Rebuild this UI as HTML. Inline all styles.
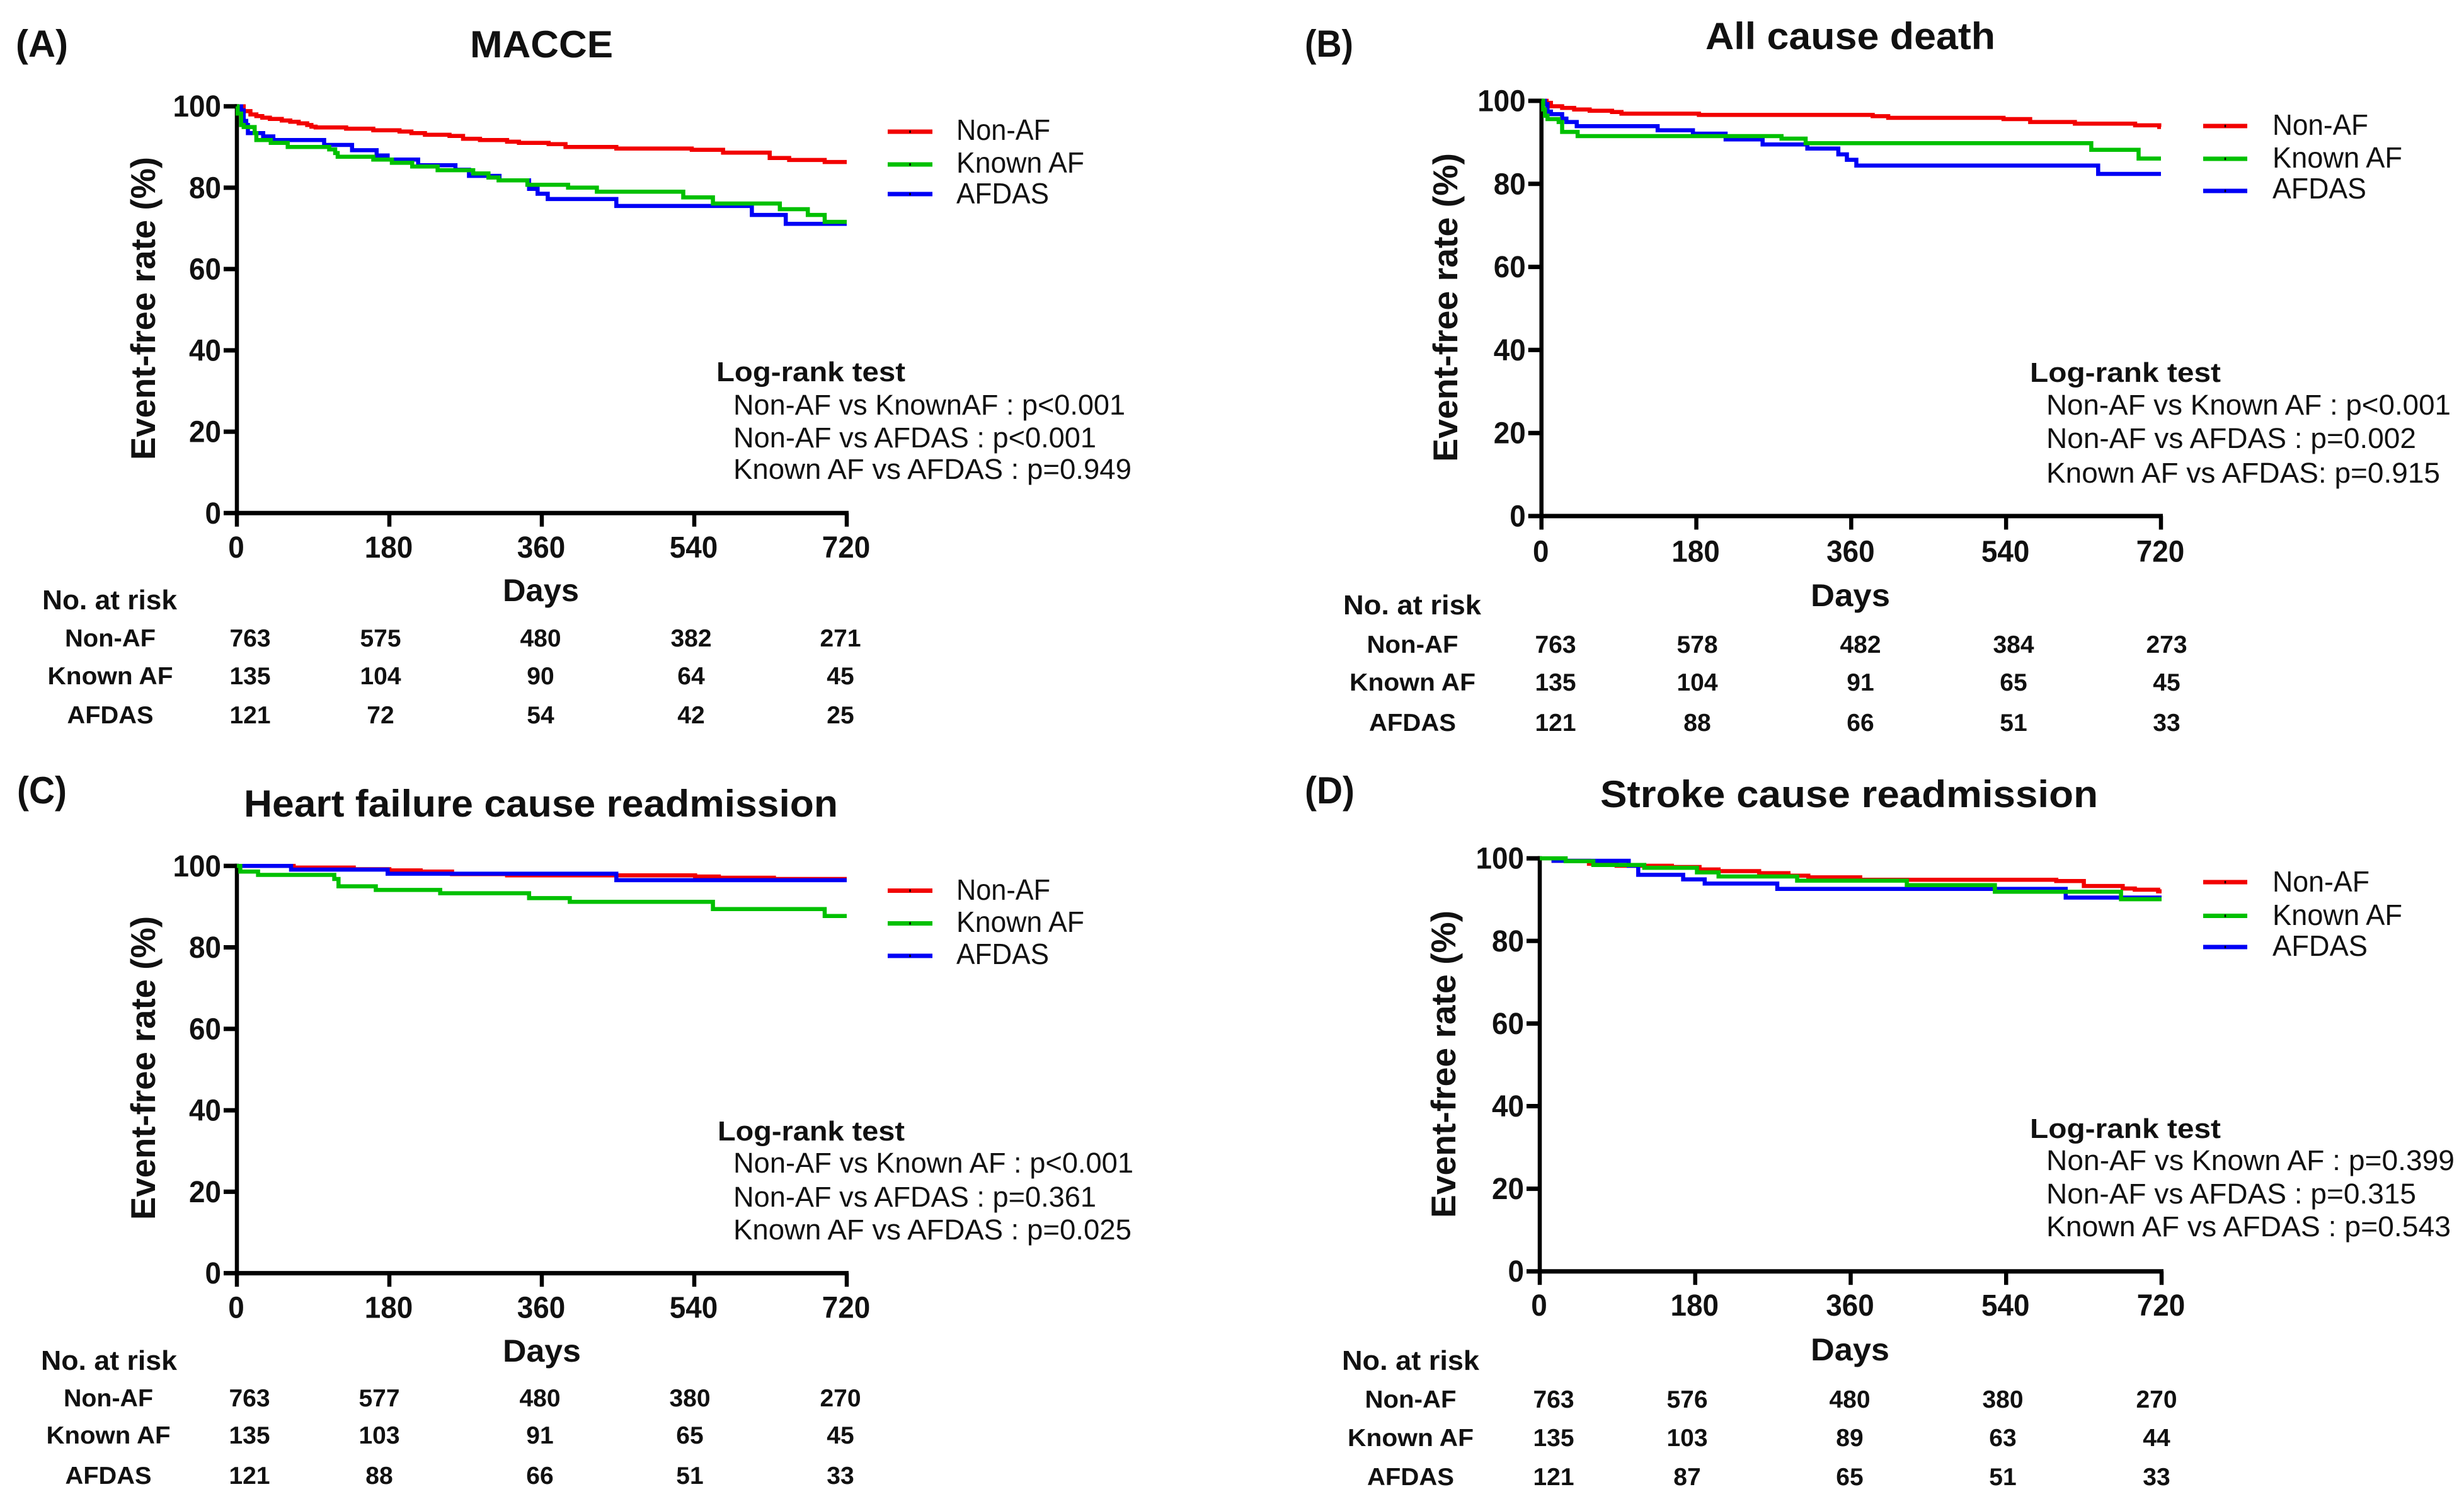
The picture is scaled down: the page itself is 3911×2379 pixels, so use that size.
<!DOCTYPE html>
<html lang="en">
<head>
<meta charset="utf-8">
<title>Kaplan-Meier event-free survival panels</title>
<style>
html,body{margin:0;padding:0;background:#fff;}
svg{display:block;}
text{font-family:"Liberation Sans",Arial,sans-serif;fill:#111;}
.b{font-weight:bold;}
.panel{font-size:60px;font-weight:bold;}
.title{font-size:60px;font-weight:bold;}
.ytitle{font-size:55px;font-weight:bold;}
.days{font-size:50px;font-weight:bold;}
.leg{font-size:46px;}
.lr{font-size:45px;}
.lrh{font-size:44px;font-weight:bold;}
.risk{font-size:39px;font-weight:bold;}
.riskh{font-size:44px;font-weight:bold;}
.mid{text-anchor:middle;}
.tick{font-size:48px;font-weight:bold;}
</style>
</head>
<body>
<svg id="figure" xmlns="http://www.w3.org/2000/svg" width="3911" height="2379" viewBox="0 0 3911 2379">
<rect width="3911" height="2379" fill="#fff"/>

<!-- Panel A -->
<g id="panel-a">
<text class="panel" x="25" y="90" textLength="83" lengthAdjust="spacingAndGlyphs">(A)</text>
<text class="title" x="746" y="91" textLength="227" lengthAdjust="spacingAndGlyphs">MACCE</text>
<text class="ytitle" transform="translate(246,730) rotate(-90)" textLength="481" lengthAdjust="spacingAndGlyphs">Event-free rate (%)</text>
<text class="days" x="798" y="954" textLength="121" lengthAdjust="spacingAndGlyphs">Days</text>
<text class="leg" x="1518" y="222" textLength="149" lengthAdjust="spacingAndGlyphs">Non-AF</text>
<text class="leg" x="1518" y="274" textLength="203" lengthAdjust="spacingAndGlyphs">Known AF</text>
<text class="leg" x="1518" y="323" textLength="147" lengthAdjust="spacingAndGlyphs">AFDAS</text>
<text class="lrh" x="1137" y="605" textLength="300" lengthAdjust="spacingAndGlyphs">Log-rank test</text>
<text class="lr" x="1164" y="658" textLength="622" lengthAdjust="spacingAndGlyphs">Non-AF vs KnownAF : p&lt;0.001</text>
<text class="lr" x="1164" y="710" textLength="576" lengthAdjust="spacingAndGlyphs">Non-AF vs AFDAS : p&lt;0.001</text>
<text class="lr" x="1164" y="760" textLength="632" lengthAdjust="spacingAndGlyphs">Known AF vs AFDAS : p=0.949</text>
<text class="riskh" x="67" y="967" textLength="214" lengthAdjust="spacingAndGlyphs">No. at risk</text>
<text class="risk mid" x="175" y="1026" textLength="144" lengthAdjust="spacingAndGlyphs">Non-AF</text>
<text class="risk mid" x="175" y="1086" textLength="199" lengthAdjust="spacingAndGlyphs">Known AF</text>
<text class="risk mid" x="175" y="1148" textLength="137" lengthAdjust="spacingAndGlyphs">AFDAS</text>
<g class="risk mid"><text x="397" y="1026">763</text><text x="604" y="1026">575</text><text x="858" y="1026">480</text><text x="1097" y="1026">382</text><text x="1334" y="1026">271</text></g>
<g class="risk mid"><text x="397" y="1086">135</text><text x="604" y="1086">104</text><text x="858" y="1086">90</text><text x="1097" y="1086">64</text><text x="1334" y="1086">45</text></g>
<g class="risk mid"><text x="397" y="1148">121</text><text x="604" y="1148">72</text><text x="858" y="1148">54</text><text x="1097" y="1148">42</text><text x="1334" y="1148">25</text></g>
</g>

<!-- Panel B -->
<g id="panel-b">
<text class="panel" x="2071" y="90" textLength="77" lengthAdjust="spacingAndGlyphs">(B)</text>
<text class="title" x="2707" y="78" textLength="460" lengthAdjust="spacingAndGlyphs">All cause death</text>
<text class="ytitle" transform="translate(2313,733) rotate(-90)" textLength="490" lengthAdjust="spacingAndGlyphs">Event-free rate (%)</text>
<text class="days" x="2874" y="962" textLength="126" lengthAdjust="spacingAndGlyphs">Days</text>
<text class="leg" x="3607" y="214" textLength="152" lengthAdjust="spacingAndGlyphs">Non-AF</text>
<text class="leg" x="3607" y="266" textLength="206" lengthAdjust="spacingAndGlyphs">Known AF</text>
<text class="leg" x="3607" y="315" textLength="149" lengthAdjust="spacingAndGlyphs">AFDAS</text>
<text class="lrh" x="3222" y="606" textLength="303" lengthAdjust="spacingAndGlyphs">Log-rank test</text>
<text class="lr" x="3248" y="658" textLength="642" lengthAdjust="spacingAndGlyphs">Non-AF vs Known AF : p&lt;0.001</text>
<text class="lr" x="3248" y="711" textLength="587" lengthAdjust="spacingAndGlyphs">Non-AF vs AFDAS : p=0.002</text>
<text class="lr" x="3248" y="766" textLength="625" lengthAdjust="spacingAndGlyphs">Known AF vs AFDAS: p=0.915</text>
<text class="riskh" x="2132" y="975" textLength="219" lengthAdjust="spacingAndGlyphs">No. at risk</text>
<text class="risk mid" x="2242" y="1036" textLength="145" lengthAdjust="spacingAndGlyphs">Non-AF</text>
<text class="risk mid" x="2242" y="1096" textLength="200" lengthAdjust="spacingAndGlyphs">Known AF</text>
<text class="risk mid" x="2242" y="1160" textLength="138" lengthAdjust="spacingAndGlyphs">AFDAS</text>
<g class="risk mid"><text x="2469" y="1036">763</text><text x="2694" y="1036">578</text><text x="2953" y="1036">482</text><text x="3196" y="1036">384</text><text x="3439" y="1036">273</text></g>
<g class="risk mid"><text x="2469" y="1096">135</text><text x="2694" y="1096">104</text><text x="2953" y="1096">91</text><text x="3196" y="1096">65</text><text x="3439" y="1096">45</text></g>
<g class="risk mid"><text x="2469" y="1160">121</text><text x="2694" y="1160">88</text><text x="2953" y="1160">66</text><text x="3196" y="1160">51</text><text x="3439" y="1160">33</text></g>
</g>

<!-- Panel C -->
<g id="panel-c">
<text class="panel" x="27" y="1275" textLength="79" lengthAdjust="spacingAndGlyphs">(C)</text>
<text class="title" x="387" y="1296" textLength="943" lengthAdjust="spacingAndGlyphs">Heart failure cause readmission</text>
<text class="ytitle" transform="translate(246,1936) rotate(-90)" textLength="482" lengthAdjust="spacingAndGlyphs">Event-free rate (%)</text>
<text class="days" x="798" y="2161" textLength="124" lengthAdjust="spacingAndGlyphs">Days</text>
<text class="leg" x="1518" y="1428" textLength="149" lengthAdjust="spacingAndGlyphs">Non-AF</text>
<text class="leg" x="1518" y="1479" textLength="203" lengthAdjust="spacingAndGlyphs">Known AF</text>
<text class="leg" x="1518" y="1530" textLength="147" lengthAdjust="spacingAndGlyphs">AFDAS</text>
<text class="lrh" x="1139" y="1810" textLength="297" lengthAdjust="spacingAndGlyphs">Log-rank test</text>
<text class="lr" x="1164" y="1861" textLength="635" lengthAdjust="spacingAndGlyphs">Non-AF vs Known AF : p&lt;0.001</text>
<text class="lr" x="1164" y="1915" textLength="576" lengthAdjust="spacingAndGlyphs">Non-AF vs AFDAS : p=0.361</text>
<text class="lr" x="1164" y="1967" textLength="632" lengthAdjust="spacingAndGlyphs">Known AF vs AFDAS : p=0.025</text>
<text class="riskh" x="65" y="2174" textLength="216" lengthAdjust="spacingAndGlyphs">No. at risk</text>
<text class="risk mid" x="172" y="2232" textLength="142" lengthAdjust="spacingAndGlyphs">Non-AF</text>
<text class="risk mid" x="172" y="2291" textLength="197" lengthAdjust="spacingAndGlyphs">Known AF</text>
<text class="risk mid" x="172" y="2355" textLength="137" lengthAdjust="spacingAndGlyphs">AFDAS</text>
<g class="risk mid"><text x="396" y="2232">763</text><text x="602" y="2232">577</text><text x="857" y="2232">480</text><text x="1095" y="2232">380</text><text x="1334" y="2232">270</text></g>
<g class="risk mid"><text x="396" y="2291">135</text><text x="602" y="2291">103</text><text x="857" y="2291">91</text><text x="1095" y="2291">65</text><text x="1334" y="2291">45</text></g>
<g class="risk mid"><text x="396" y="2355">121</text><text x="602" y="2355">88</text><text x="857" y="2355">66</text><text x="1095" y="2355">51</text><text x="1334" y="2355">33</text></g>
</g>

<!-- Panel D -->
<g id="panel-d">
<text class="panel" x="2071" y="1275" textLength="79" lengthAdjust="spacingAndGlyphs">(D)</text>
<text class="title" x="2540" y="1281" textLength="790" lengthAdjust="spacingAndGlyphs">Stroke cause readmission</text>
<text class="ytitle" transform="translate(2310,1933) rotate(-90)" textLength="488" lengthAdjust="spacingAndGlyphs">Event-free rate (%)</text>
<text class="days" x="2874" y="2159" textLength="125" lengthAdjust="spacingAndGlyphs">Days</text>
<text class="leg" x="3607" y="1415" textLength="154" lengthAdjust="spacingAndGlyphs">Non-AF</text>
<text class="leg" x="3607" y="1468" textLength="206" lengthAdjust="spacingAndGlyphs">Known AF</text>
<text class="leg" x="3607" y="1517" textLength="151" lengthAdjust="spacingAndGlyphs">AFDAS</text>
<text class="lrh" x="3222" y="1806" textLength="303" lengthAdjust="spacingAndGlyphs">Log-rank test</text>
<text class="lr" x="3248" y="1857" textLength="648" lengthAdjust="spacingAndGlyphs">Non-AF vs Known AF : p=0.399</text>
<text class="lr" x="3248" y="1910" textLength="587" lengthAdjust="spacingAndGlyphs">Non-AF vs AFDAS : p=0.315</text>
<text class="lr" x="3248" y="1962" textLength="642" lengthAdjust="spacingAndGlyphs">Known AF vs AFDAS : p=0.543</text>
<text class="riskh" x="2130" y="2174" textLength="218" lengthAdjust="spacingAndGlyphs">No. at risk</text>
<text class="risk mid" x="2239" y="2234" textLength="145" lengthAdjust="spacingAndGlyphs">Non-AF</text>
<text class="risk mid" x="2239" y="2295" textLength="200" lengthAdjust="spacingAndGlyphs">Known AF</text>
<text class="risk mid" x="2239" y="2357" textLength="138" lengthAdjust="spacingAndGlyphs">AFDAS</text>
<g class="risk mid"><text x="2466" y="2234">763</text><text x="2678" y="2234">576</text><text x="2936" y="2234">480</text><text x="3179" y="2234">380</text><text x="3423" y="2234">270</text></g>
<g class="risk mid"><text x="2466" y="2295">135</text><text x="2678" y="2295">103</text><text x="2936" y="2295">89</text><text x="3179" y="2295">63</text><text x="3423" y="2295">44</text></g>
<g class="risk mid"><text x="2466" y="2357">121</text><text x="2678" y="2357">87</text><text x="2936" y="2357">65</text><text x="3179" y="2357">51</text><text x="3423" y="2357">33</text></g>
</g>
</svg>

<script>
// Axis tick labels
const xTicks = [0, 180, 360, 540, 720];
const yTicks = [0, 20, 40, 60, 80, 100];

// Panel A - MACCE (step times in days, event-free rate in %)
const aNonAfDays = [0, 8, 16, 23, 30, 39, 53, 63, 73, 83, 88, 93, 129, 161, 192, 206, 222, 251, 267, 287, 319, 333, 368, 388, 448, 537, 574, 629, 652, 694];
const aNonAfRates = [100, 98.8, 98, 97.6, 97.2, 96.9, 96.5, 96.2, 95.8, 95.4, 95, 94.8, 94.5, 94.1, 93.8, 93.4, 93, 92.7, 92, 91.7, 91.3, 91, 90.7, 90, 89.6, 89.3, 88.6, 87.3, 86.8, 86.3];
const aAfdasDays = [0, 5, 8, 11, 13, 31, 43, 103, 136, 165, 178, 214, 258, 274, 310, 345, 355, 367, 448, 608, 648];
const aAfdasRates = [100, 99, 96.4, 95.4, 93.4, 92.6, 91.7, 90.5, 89.2, 87.9, 86.9, 85.5, 84.4, 82.9, 81.8, 79.7, 78.5, 77.2, 75.5, 73.3, 71.1];
const aKnownDays = [0, 1, 5, 8, 21, 23, 40, 60, 109, 116, 119, 161, 183, 207, 237, 279, 297, 309, 343, 391, 425, 527, 562, 641, 674, 694];
const aKnownRates = [100, 98.2, 95.4, 94.9, 93.4, 91.7, 91, 90, 89.4, 88.5, 87.6, 86.9, 86.1, 85.2, 84.3, 83.5, 82.5, 81.8, 80.7, 80, 79, 77.6, 76.1, 74.7, 73.3, 71.6];

// Panel B - All cause death
const bNonAfDays = [0, 6, 11, 24, 38, 56, 82, 93, 183, 385, 403, 537, 568, 620, 690, 718];
const bNonAfRates = [100, 99.5, 98.7, 98.3, 97.9, 97.6, 97.3, 96.9, 96.6, 96.3, 95.9, 95.6, 94.9, 94.5, 94.1, 93.7];
const bAfdasDays = [0, 4, 7, 11, 24, 29, 41, 135, 176, 214, 257, 309, 345, 355, 366, 647];
const bAfdasRates = [100, 99.2, 97.4, 96.8, 95.7, 94.9, 93.9, 92.9, 92.1, 90.7, 89.5, 88.5, 87.1, 85.8, 84.4, 82.4];
const bKnownDays = [0, 2, 4, 7, 20, 24, 42, 279, 307, 639, 694];
const bKnownRates = [100, 97.9, 96.4, 95.6, 94.9, 92.5, 91.5, 90.9, 89.8, 88.2, 86.1];

// Panel C - Heart failure cause readmission
const cNonAfDays = [0, 67, 138, 180, 217, 254, 319, 541, 569, 634];
const cNonAfRates = [100, 99.6, 99.2, 98.9, 98.6, 98, 97.7, 97.4, 97.1, 96.8];
const cAfdasDays = [0, 64, 178, 448];
const cAfdasRates = [100, 99.1, 98.1, 96.5];
const cKnownDays = [0, 4, 25, 115, 120, 164, 240, 345, 393, 562, 694];
const cKnownRates = [100, 98.6, 97.8, 96.8, 95, 94.1, 93.3, 92.1, 91.2, 89.4, 87.7];

// Panel D - Stroke cause readmission
const dNonAfDays = [0, 16, 57, 89, 153, 185, 207, 254, 288, 311, 371, 598, 630, 675, 689, 716];
const dNonAfRates = [100, 99.4, 98.7, 98.2, 97.9, 97.3, 96.9, 96.4, 95.8, 95.4, 94.8, 94.5, 93.3, 92.7, 92.4, 92];
const dAfdasDays = [0, 16, 103, 114, 166, 191, 275, 609];
const dAfdasRates = [100, 99.4, 98.2, 96, 94.9, 93.9, 92.6, 90.5];
const dKnownDays = [0, 30, 62, 121, 182, 207, 298, 425, 527, 673];
const dKnownRates = [100, 99.3, 98.4, 97.7, 96.6, 95.6, 94.6, 93.5, 91.9, 90.1];

const SVG_NS = 'http://www.w3.org/2000/svg';
const COLOR_NON_AF = '#f20000';
const COLOR_KNOWN = '#00c000';
const COLOR_AFDAS = '#0000f5';

function makeScale(domainMin, domainMax, rangeMin, rangeMax) {
  return function (v) {
    return rangeMin + (v - domainMin) / (domainMax - domainMin) * (rangeMax - rangeMin);
  };
}

function addLine(parent, x1, y1, x2, y2, width, color) {
  const line = document.createElementNS(SVG_NS, 'line');
  line.setAttribute('x1', x1);
  line.setAttribute('y1', y1);
  line.setAttribute('x2', x2);
  line.setAttribute('y2', y2);
  line.setAttribute('stroke', color);
  line.setAttribute('stroke-width', width);
  parent.appendChild(line);
  return line;
}

function drawAxes(group, key, geom, xScale, yScale) {
  const xAxis = addLine(group, geom.left - 3, geom.bottom, geom.right + 3, geom.bottom, 7, '#000');
  
  
  const yAxis = addLine(group, geom.left, geom.top - 3.5, geom.left, geom.bottom + 3, 6.5, '#000');
  
  

  xTicks.forEach(function (t) {
    const mark = addLine(group, xScale(t), geom.bottom, xScale(t), geom.bottom + 21.5, 6.5, '#000');
    
    
    const label = document.createElementNS(SVG_NS, 'text');
    
    
    label.setAttribute('class', 'tick mid');
    label.setAttribute('x', xScale(t) - 1);
    label.setAttribute('y', geom.bottom + geom.xLabelDrop);
    label.setAttribute('textLength', String(t).length * 25.5);
    label.setAttribute('lengthAdjust', 'spacingAndGlyphs');
    label.textContent = t;
    group.appendChild(label);
  });

  yTicks.forEach(function (t) {
    const mark = addLine(group, geom.left - 21, yScale(t), geom.left, yScale(t), 7, '#000');
    
    
    const label = document.createElementNS(SVG_NS, 'text');
    
    
    label.setAttribute('class', 'tick');
    label.setAttribute('text-anchor', 'end');
    label.setAttribute('x', geom.left - 25);
    label.setAttribute('y', yScale(t) + 16.5);
    label.setAttribute('textLength', String(t).length * 25.5);
    label.setAttribute('lengthAdjust', 'spacingAndGlyphs');
    label.textContent = t;
    group.appendChild(label);
  });
}

function drawStep(group, key, seriesName, days, rates, color, xScale, yScale) {
  let d = 'M' + xScale(days[0]) + ' ' + yScale(rates[0]);
  for (let i = 1; i < days.length; i++) {
    d += 'H' + xScale(days[i]).toFixed(1) + 'V' + yScale(rates[i]).toFixed(1);
  }
  d += 'H' + xScale(xTicks[xTicks.length - 1]);
  const path = document.createElementNS(SVG_NS, 'path');
  
  
  path.setAttribute('d', d);
  path.setAttribute('fill', 'none');
  path.setAttribute('stroke', color);
  path.setAttribute('stroke-width', 6.5);
  group.appendChild(path);
}

function drawLegendSwatch(group, key, seriesName, x1, x2, y, color) {
  const swatch = addLine(group, x1, y, x2, y, 7, color);
  
  
  const dot = addLine(group, (x1 + x2) / 2, y - 2, (x1 + x2) / 2, y + 2, 2.5, '#000');
  
  
}

function drawPanel(key, geom, legend, nonAfDays, nonAfRates, afdasDays, afdasRates, knownDays, knownRates) {
  const group = document.getElementById('panel-' + key);
  const xScale = makeScale(xTicks[0], xTicks[xTicks.length - 1], geom.left, geom.right);
  const yScale = makeScale(yTicks[0], yTicks[yTicks.length - 1], geom.bottom, geom.top);
  drawStep(group, key, 'non-af', nonAfDays, nonAfRates, COLOR_NON_AF, xScale, yScale);
  drawStep(group, key, 'afdas', afdasDays, afdasRates, COLOR_AFDAS, xScale, yScale);
  drawAxes(group, key, geom, xScale, yScale);
  drawStep(group, key, 'known-af', knownDays, knownRates, COLOR_KNOWN, xScale, yScale);
  drawLegendSwatch(group, key, 'non-af', legend.x1, legend.x2, legend.y1, COLOR_NON_AF);
  drawLegendSwatch(group, key, 'known-af', legend.x1, legend.x2, legend.y2, COLOR_KNOWN);
  drawLegendSwatch(group, key, 'afdas', legend.x1, legend.x2, legend.y3, COLOR_AFDAS);
}

drawPanel('a', {left: 376, right: 1344, top: 168.7, bottom: 814.3, xLabelDrop: 70.5},
  {x1: 1409, x2: 1480, y1: 209, y2: 261, y3: 308},
  aNonAfDays, aNonAfRates, aAfdasDays, aAfdasRates, aKnownDays, aKnownRates);
drawPanel('b', {left: 2446.7, right: 3430, top: 160, bottom: 819, xLabelDrop: 72.5},
  {x1: 3497, x2: 3567, y1: 200, y2: 252, y3: 303},
  bNonAfDays, bNonAfRates, bAfdasDays, bAfdasRates, bKnownDays, bKnownRates);
drawPanel('c', {left: 376, right: 1344, top: 1374.3, bottom: 2020.6, xLabelDrop: 71},
  {x1: 1409, x2: 1480, y1: 1413.5, y2: 1465.5, y3: 1517},
  cNonAfDays, cNonAfRates, cAfdasDays, cAfdasRates, cKnownDays, cKnownRates);
drawPanel('d', {left: 2444, right: 3431, top: 1362.2, bottom: 2017.7, xLabelDrop: 70.5},
  {x1: 3497, x2: 3567, y1: 1400, y2: 1453.5, y3: 1503},
  dNonAfDays, dNonAfRates, dAfdasDays, dAfdasRates, dKnownDays, dKnownRates);
</script>
</body>
</html>
